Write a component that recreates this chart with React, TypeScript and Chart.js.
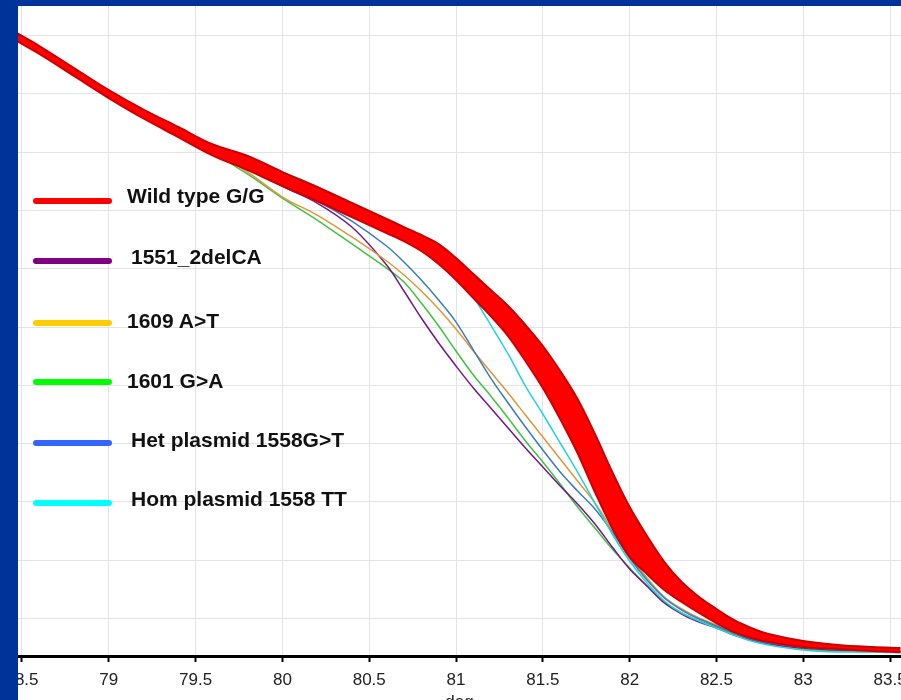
import React, { useEffect, useRef } from "react";
import { Chart, registerables } from "chart.js";

Chart.register(...registerables);

// ---------- data ----------
const temps = [
  78.47, 78.6, 78.8, 79.0, 79.2, 79.4, 79.6, 79.8, 80.0, 80.2, 80.4, 80.6, 80.7,
  80.8, 80.9, 81.0, 81.1, 81.2, 81.3, 81.4, 81.5, 81.6, 81.7, 81.8, 81.9, 82.0,
  82.1, 82.2, 82.3, 82.4, 82.5, 82.6, 82.7, 82.8, 83.0, 83.2, 83.4, 83.56,
];

// Wild type replicates form a band: upper/right edge and lower/left edge
const wildUpper = [
  100.46, 98.23, 94.45, 90.68, 87.33, 84.33, 81.32, 79.35, 76.6, 74.03, 71.28,
  68.54, 67.16, 65.79, 64.24, 61.84, 59.09, 56.35, 53.6, 50.34, 46.74, 42.45,
  37.64, 31.64, 25.11, 19.1, 14.13, 9.66, 6.23, 3.66, 1.6, -0.29, -1.66, -2.69,
  -3.9, -4.58, -4.93, -5.1,
];
const wildLower = [
  99.09, 96.86, 93.08, 89.3, 85.79, 82.61, 79.43, 76.95, 74.2, 71.63, 68.88,
  66.13, 64.76, 63.04, 60.81, 58.06, 54.98, 51.89, 48.45, 44.16, 39.53, 34.21,
  28.37, 21.68, 15.5, 10.52, 7.6, 4.86, 2.8, 0.91, -0.81, -2.35, -3.38, -4.07,
  -4.93, -5.27, -5.61, -5.78,
];
const del1551 = [
  99.6, 97.37, 93.6, 89.82, 86.39, 83.12, 80.04, 77.63, 74.2, 71.28, 67.16,
  60.64, 56.18, 51.54, 47.25, 43.3, 39.53, 36.1, 32.66, 29.23, 25.97, 22.71,
  19.62, 16.19, 12.24, 8.46, 5.54, 2.63, 0.74, -0.63, -1.66, -2.87, -3.72, -4.41,
  -5.1, -5.44, -5.61, -5.61,
];
const a1609 = [
  99.43, 97.2, 93.42, 89.65, 86.21, 82.95, 80.04, 76.6, 72.31, 69.22, 65.45,
  61.33, 58.92, 56.18, 53.09, 49.66, 45.88, 42.27, 38.67, 34.89, 31.12, 27.34,
  23.56, 19.79, 15.16, 10.69, 6.92, 3.66, 1.6, 0.05, -1.15, -2.35, -3.38, -4.07,
  -4.93, -5.27, -5.44, -5.61,
];
const g1601 = [
  99.43, 97.2, 93.42, 89.65, 86.21, 82.95, 79.86, 76.26, 72.14, 68.36, 64.25,
  60.12, 57.72, 54.12, 50.17, 45.88, 41.76, 38.16, 34.38, 30.43, 26.83, 23.05,
  19.1, 15.5, 11.89, 8.63, 5.54, 2.8, 0.91, -0.46, -1.49, -2.69, -3.72, -4.41,
  -5.27, -5.61, -5.78, -5.78,
];
const het1558 = [
  99.77, 97.54, 93.77, 89.99, 86.56, 83.3, 80.21, 77.29, 74.2, 71.63, 68.19,
  63.9, 61.15, 58.06, 54.63, 50.85, 46.05, 41.24, 36.95, 32.83, 28.89, 25.11,
  21.85, 18.76, 14.81, 10.35, 6.57, 3.48, 1.42, -0.12, -1.32, -2.52, -3.55, -4.24,
  -4.93, -5.27, -5.44, -5.61,
];
const hom1558 = [
  100.12, 97.89, 94.11, 90.33, 86.9, 83.81, 80.89, 78.66, 76.6, 74.03, 71.28,
  68.36, 66.82, 65.1, 62.7, 59.44, 55.15, 50.34, 45.37, 39.87, 35.07, 30.09,
  25.11, 19.79, 14.47, 9.83, 6.06, 2.97, 0.91, -0.46, -1.66, -2.87, -3.9, -4.58,
  -5.44, -5.78, -5.78, -5.96,
];

const xTickValues = [78.5, 79, 79.5, 80, 80.5, 81, 81.5, 82, 82.5, 83, 83.5];
const yGridValues = [0, 10, 20, 30, 40, 50, 60, 70, 80, 90, 100];

const legendLabels = [
  "Wild type G/G",
  "1551_2delCA",
  "1609 A>T",
  "1601 G>A",
  "Het plasmid 1558G>T",
  "Hom plasmid 1558 TT",
];
const legendColors = ["#ff0000", "#800080", "#ffcc00", "#00ff00", "#3366ff", "#00ffff"];
const lineColors = ["#ff0000", "#74168a", "#e0963a", "#3fc23f", "#3a7cbc", "#22d2e0"];

// ---------- layout (page pixels) ----------
const legendLineY = [200.7, 261, 322.7, 381.7, 442.7, 502.7];
const legendTextY = [195.3, 256, 320.5, 380, 439.5, 498];
const legendTextX = [127, 131, 127, 127, 131, 131];

const FONT = "'Liberation Sans', Arial, Helvetica, sans-serif";

const pts = (ys: number[]) => temps.map((t, i) => ({ x: t, y: ys[i] }));

export default function App() {
  const ref = useRef<HTMLCanvasElement>(null);

  useEffect(() => {
    const prev = document.body.style.margin;
    document.body.style.margin = "0";
    const thin = (label: string, ys: number[], color: string) => ({
      label,
      data: pts(ys),
      borderColor: color,
      backgroundColor: color,
      borderWidth: 1.5,
      pointRadius: 0,
      fill: false,
      tension: 0.35,
    });
    const chart = new Chart(ref.current as HTMLCanvasElement, {
      type: "line",
      data: {
        datasets: [
          {
            label: legendLabels[0],
            data: pts(wildUpper),
            borderColor: "#cc0000",
            backgroundColor: "#ff0000",
            borderWidth: 2,
            pointRadius: 0,
            fill: false,
            tension: 0.35,
          },
          {
            label: legendLabels[0] + " (band)",
            data: pts(wildLower),
            borderColor: "#cc0000",
            backgroundColor: "#ff0000",
            borderWidth: 2,
            pointRadius: 0,
            fill: "-1",
            tension: 0.35,
          },
          thin(legendLabels[5], hom1558, lineColors[5]),
          thin(legendLabels[4], het1558, lineColors[4]),
          thin(legendLabels[2], a1609, lineColors[2]),
          thin(legendLabels[1], del1551, lineColors[1]),
          thin(legendLabels[3], g1601, lineColors[3]),
        ],
      },
      options: {
        animation: false,
        responsive: false,
        devicePixelRatio: 1,
        layout: { padding: 0 },
        plugins: {
          legend: { display: false },
          tooltip: { enabled: false },
          title: { display: false },
        },
        scales: {
          x: {
            type: "linear",
            min: 78.477,
            max: 83.563,
            afterBuildTicks: (s: any) => {
              s.ticks = xTickValues.map((v) => ({ value: v }));
            },
            afterFit: (s: any) => {
              s.height = 60;
              s.paddingLeft = 0;
              s.paddingRight = 0;
            },
            ticks: {
              autoSkip: false,
              maxRotation: 0,
              minRotation: 0,
              padding: 8,
              color: "#222",
              font: { family: FONT, size: 17 },
              callback: (v: any) => String(v),
            },
            grid: {
              color: "#e3e3e3",
              lineWidth: 1,
              tickLength: 6,
              tickColor: "#000",
              tickWidth: 2,
            },
            border: { display: true, color: "#000", width: 3 },
            title: {
              display: true,
              text: "deg",
              color: "#222",
              font: { family: FONT, size: 17 },
              padding: { top: 0, bottom: 3 },
            },
          },
          y: {
            type: "linear",
            min: -6.47,
            max: 105.1,
            afterBuildTicks: (s: any) => {
              s.ticks = yGridValues.map((v) => ({ value: v }));
            },
            afterFit: (s: any) => {
              s.width = 0;
            },
            ticks: { display: false },
            grid: { color: "#e3e3e3", lineWidth: 1, drawTicks: false },
            border: { display: false },
          },
        },
      },
    } as any);
    return () => {
      chart.destroy();
      document.body.style.margin = prev;
    };
  }, []);

  return (
    <div
      style={{
        position: "fixed",
        left: 0,
        top: 0,
        width: 901,
        height: 700,
        background: "#003399",
        overflow: "hidden",
      }}
    >
      <div
        style={{
          position: "absolute",
          left: 18,
          top: 6,
          width: 883,
          height: 694,
          background: "#ffffff",
          overflow: "hidden",
        }}
      >
        <canvas
          ref={ref}
          width={883}
          height={710}
          style={{ display: "block", width: 883, height: 710 }}
        />
      </div>
      {legendLabels.map((label, i) => (
        <React.Fragment key={label}>
          <div
            style={{
              position: "absolute",
              left: 33,
              top: legendLineY[i] - 3,
              width: 79,
              height: 6,
              borderRadius: 3,
              background: legendColors[i],
            }}
          />
          <div
            style={{
              position: "absolute",
              left: legendTextX[i],
              top: legendTextY[i] - 10.25,
              fontFamily: FONT,
              fontWeight: "bold",
              fontSize: 21,
              lineHeight: "21px",
              color: "#111",
              whiteSpace: "nowrap",
            }}
          >
            {label}
          </div>
        </React.Fragment>
      ))}
    </div>
  );
}
